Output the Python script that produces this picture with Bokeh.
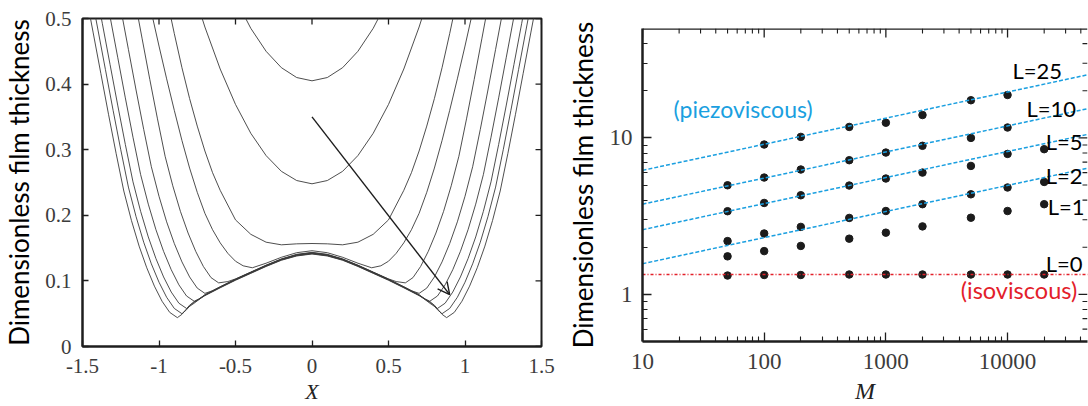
from bokeh.plotting import figure
from bokeh.layouts import row
from bokeh.models import (Range1d, FixedTicker, Label, Arrow, OpenHead, Span,
                          CustomJSTickFormatter)
from bokeh.embed import file_html
from bokeh.resources import INLINE

# ---------------------------------------------------------------------------
# Left panel: film thickness profiles H(X), half profiles for X >= 0
# (the profiles are symmetric about X = 0)
# ---------------------------------------------------------------------------
profile_1_x = [0.0, 0.1, 0.2, 0.3, 0.4, 0.5]
profile_1_h = [0.405, 0.410, 0.425, 0.450, 0.485, 0.530]

profile_2_x = [0.0, 0.1, 0.2, 0.3, 0.4, 0.5, 0.6, 0.7, 0.8]
profile_2_h = [0.248, 0.253, 0.267, 0.291, 0.325, 0.369, 0.423, 0.487, 0.560]

profile_3_x = [0.0, 0.1, 0.2, 0.3, 0.4, 0.5, 0.6, 0.65, 0.7, 0.75, 0.8, 0.85, 0.9, 0.95]
profile_3_h = [0.157, 0.1565, 0.155, 0.159, 0.171, 0.193, 0.238, 0.265, 0.298, 0.336,
               0.378, 0.425, 0.477, 0.532]

profile_4_x = [0.0, 0.1, 0.2, 0.3, 0.39, 0.45, 0.5, 0.55, 0.6, 0.65, 0.7, 0.75, 0.8,
               0.85, 0.9, 0.95, 1.0, 1.05, 1.1]
profile_4_h = [0.146, 0.143, 0.136, 0.127, 0.120, 0.123, 0.130, 0.142, 0.158, 0.178,
               0.203, 0.235, 0.272, 0.314, 0.360, 0.408, 0.458, 0.510, 0.565]

profile_5_x = [0.0, 0.1, 0.2, 0.3, 0.4, 0.5, 0.55, 0.61, 0.66, 0.71, 0.76, 0.81, 0.86,
               0.91, 0.96, 1.01, 1.06, 1.11, 1.16]
profile_5_h = [0.1435, 0.1405, 0.1335, 0.124, 0.1135, 0.103, 0.099, 0.097, 0.105, 0.122,
               0.145, 0.173, 0.206, 0.245, 0.290, 0.347, 0.407, 0.469, 0.531]

profile_6_x = [0.0, 0.1, 0.2, 0.3, 0.4, 0.5, 0.6, 0.65, 0.7, 0.75, 0.8, 0.85, 0.9, 0.95,
               1.0, 1.05, 1.1, 1.15, 1.2, 1.25, 1.3]
profile_6_h = [0.143, 0.140, 0.133, 0.1235, 0.113, 0.1025, 0.091, 0.085, 0.081, 0.089,
               0.106, 0.129, 0.157, 0.190, 0.229, 0.274, 0.331, 0.391, 0.453, 0.515, 0.577]

profile_7_x = [0.0, 0.1, 0.2, 0.3, 0.4, 0.5, 0.6, 0.7, 0.74, 0.77, 0.82, 0.87, 0.92, 0.97,
               1.02, 1.07, 1.12, 1.17, 1.22, 1.27, 1.32, 1.37]
profile_7_h = [0.1425, 0.1395, 0.133, 0.1235, 0.113, 0.1025, 0.091, 0.079, 0.072, 0.069,
               0.077, 0.094, 0.117, 0.145, 0.178, 0.217, 0.262, 0.319, 0.379, 0.441,
               0.503, 0.565]

profile_8_x = [0.0, 0.1, 0.2, 0.3, 0.4, 0.5, 0.6, 0.7, 0.77, 0.82, 0.87, 0.92, 0.97, 1.02,
               1.07, 1.12, 1.17, 1.22, 1.27, 1.32, 1.37, 1.42]
profile_8_h = [0.142, 0.139, 0.1325, 0.123, 0.1125, 0.102, 0.0905, 0.0785, 0.066, 0.058,
               0.066, 0.083, 0.106, 0.134, 0.167, 0.206, 0.251, 0.308, 0.368, 0.430,
               0.492, 0.554]

profile_9_x = [0.0, 0.1, 0.2, 0.3, 0.4, 0.5, 0.6, 0.7, 0.78, 0.82, 0.85, 0.9, 0.95, 1.0,
               1.05, 1.1, 1.15, 1.2, 1.25, 1.3, 1.35, 1.4, 1.45]
profile_9_h = [0.1415, 0.1385, 0.132, 0.1225, 0.112, 0.1015, 0.090, 0.078, 0.067, 0.056,
               0.050, 0.058, 0.075, 0.098, 0.126, 0.159, 0.198, 0.243, 0.300, 0.360,
               0.422, 0.484, 0.546]

profile_10_x = [0.0, 0.1, 0.2, 0.3, 0.4, 0.5, 0.6, 0.7, 0.8, 0.85, 0.88, 0.93, 0.98, 1.03,
                1.08, 1.13, 1.18, 1.23, 1.28, 1.33, 1.38, 1.43, 1.48]
profile_10_h = [0.141, 0.138, 0.1315, 0.122, 0.1115, 0.101, 0.0895, 0.0775, 0.063, 0.049,
                0.044, 0.052, 0.069, 0.092, 0.120, 0.153, 0.192, 0.237, 0.294, 0.354,
                0.416, 0.478, 0.540]

profiles = [
    (profile_1_x, profile_1_h), (profile_2_x, profile_2_h), (profile_3_x, profile_3_h),
    (profile_4_x, profile_4_h), (profile_5_x, profile_5_h), (profile_6_x, profile_6_h),
    (profile_7_x, profile_7_h), (profile_8_x, profile_8_h), (profile_9_x, profile_9_h),
    (profile_10_x, profile_10_h),
]

# arrow showing the direction of increasing load
arrow_tail = (0.0, 0.35)
arrow_head = (0.9, 0.079)

x_ticks_left = [-1.5, -1.0, -0.5, 0.0, 0.5, 1.0, 1.5]
y_ticks_left = [0.0, 0.1, 0.2, 0.3, 0.4, 0.5]

# ---------------------------------------------------------------------------
# Right panel: central film thickness vs M for several L
# ---------------------------------------------------------------------------
m_L25 = [100, 200, 500, 1000, 2000, 5000, 10000]
h_L25 = [9.07, 10.15, 11.75, 12.5, 14.0, 17.4, 18.8]

m_L10 = [50, 100, 200, 500, 1000, 2000, 5000, 10000]
h_L10 = [4.98, 5.58, 6.28, 7.2, 8.06, 8.9, 10.0, 11.65]

m_all = [50, 100, 200, 500, 1000, 2000, 5000, 10000, 20000]
h_L5 = [3.40, 3.84, 4.30, 4.96, 5.5, 6.0, 6.62, 7.9, 8.47]
h_L2 = [2.19, 2.45, 2.70, 3.08, 3.41, 3.77, 4.36, 4.82, 5.23]
h_L1 = [1.75, 1.89, 2.04, 2.27, 2.48, 2.72, 3.09, 3.41, 3.77]
h_L0 = [1.32, 1.33, 1.33, 1.34, 1.34, 1.34, 1.34, 1.34, 1.34]

# piezoviscous asymptotes (straight lines in log-log) and the isoviscous level
fit_m = [10, 50000]
fit_L25 = [6.2, 25.7]
fit_L10 = [3.77, 15.6]
fit_L5 = [2.59, 10.7]
fit_L2 = [1.57, 6.5]
iso_h = [1.34, 1.34]

x_major_right = [10, 100, 1000, 10000]
y_major_right = [1, 10]

SANS = "Lato"
SERIF = "Liberation Serif"
FRAME = "#1e1e1e"
TICK_TXT = "#3c3c3c"
BLUE = "#1a9fe0"
RED = "#e3202a"

# frame geometry (pixels)
L_W, L_H = 560, 406
L_BORDER = dict(left=80, right=19, top=18, bottom=59)
R_W, R_H = 528, 406
R_BORDER = dict(left=82, right=1, top=28, bottom=65)
R_X_END = 45400


def mirrored(xs, hs):
    """Full symmetric profile from a half profile."""
    full_x = [-x for x in reversed(xs[1:])] + list(xs)
    full_h = list(reversed(hs[1:])) + list(hs)
    return full_x, full_h


def frame_axis(ax, tick_in, minor_in=0, size="20px", lw=2.0):
    ax.axis_line_color = FRAME
    ax.axis_line_width = lw
    ax.major_tick_in = tick_in
    ax.major_tick_out = 0
    ax.minor_tick_in = minor_in
    ax.minor_tick_out = 0
    ax.major_tick_line_color = FRAME
    ax.major_tick_line_width = 1.3
    ax.minor_tick_line_color = FRAME if minor_in else None
    ax.minor_tick_line_width = 1.1
    ax.major_label_text_font = SERIF
    ax.major_label_text_color = TICK_TXT
    ax.major_label_text_font_size = size


def make_figure(w, h, border, **kw):
    fig = figure(width=w, height=h, output_backend="svg", toolbar_location=None,
                 min_border_left=border["left"], min_border_right=border["right"],
                 min_border_top=border["top"], min_border_bottom=border["bottom"], **kw)
    # each panel keeps its own frame edges inside the row
    fig.frame_align = False
    fig.xgrid.grid_line_color = None
    fig.ygrid.grid_line_color = None
    fig.background_fill_color = "white"
    fig.border_fill_color = "white"
    return fig


def axis_title(ax, text, size, standoff, font=SERIF, style="italic", color="#222222"):
    ax.axis_label = text
    ax.axis_label_text_font = font
    ax.axis_label_text_font_style = style
    ax.axis_label_text_font_size = size
    ax.axis_label_text_color = color
    ax.axis_label_standoff = standoff


# ----------------------------- left figure ---------------------------------
p1 = make_figure(L_W, L_H, L_BORDER, x_range=Range1d(-1.5, 1.5), y_range=Range1d(0, 0.5))
p1.outline_line_color = FRAME
p1.outline_line_width = 2

fmt_left = CustomJSTickFormatter(code="return String(Math.round(tick * 10) / 10);")

frame_axis(p1.xaxis[0], 6, size="21px")
p1.xaxis.ticker = FixedTicker(ticks=x_ticks_left)
p1.xaxis.formatter = fmt_left
p1.xaxis.major_label_standoff = 12
axis_title(p1.xaxis[0], "X", "22px", 3)

frame_axis(p1.yaxis[0], 6, size="21px")
p1.yaxis.ticker = FixedTicker(ticks=y_ticks_left)
p1.yaxis.formatter = fmt_left
p1.yaxis.major_label_standoff = 11
axis_title(p1.yaxis[0], "Dimensionless film thickness", "26px", 7,
           font=SANS, style="normal", color="black")

# mirrored inward ticks on the top and right edges of the frame
l_fw = L_W - L_BORDER["left"] - L_BORDER["right"]
l_fh = L_H - L_BORDER["top"] - L_BORDER["bottom"]
dy6 = 6 * 0.5 / l_fh
dx6 = 6 * 3.0 / l_fw
p1.segment(x0=x_ticks_left, y0=[0.5] * len(x_ticks_left),
           x1=x_ticks_left, y1=[0.5 - dy6] * len(x_ticks_left),
           line_color=FRAME, line_width=1.3)
p1.segment(x0=[1.5] * len(y_ticks_left), y0=y_ticks_left,
           x1=[1.5 - dx6] * len(y_ticks_left), y1=y_ticks_left,
           line_color=FRAME, line_width=1.3)

for xs, hs in profiles:
    fx, fh = mirrored(xs, hs)
    p1.line(fx, fh, line_color="#3a3a3a", line_width=0.9)

p1.add_layout(Arrow(x_start=arrow_tail[0], y_start=arrow_tail[1],
                    x_end=arrow_head[0], y_end=arrow_head[1],
                    line_color="#1c1c1c", line_width=1.4,
                    end=OpenHead(size=12, line_color="#1c1c1c", line_width=1.4)))

# ----------------------------- right figure --------------------------------
p2 = make_figure(R_W, R_H, R_BORDER, x_axis_type="log", y_axis_type="log",
                 x_range=Range1d(10, R_X_END), y_range=Range1d(0.5, 50))
p2.outline_line_color = None

x_minor_right = [k * d for d in (10, 100, 1000, 10000) for k in range(2, 10)]
y_minor_right = [0.6, 0.7, 0.8, 0.9] + [float(k) for k in range(2, 10)] + [20.0, 30.0, 40.0]
fmt_right = CustomJSTickFormatter(code="return tick.toFixed(0);")

frame_axis(p2.xaxis[0], 9, 5, size="23px", lw=2.5)
p2.xaxis.ticker = FixedTicker(ticks=x_major_right, minor_ticks=x_minor_right)
p2.xaxis.formatter = fmt_right
p2.xaxis.major_label_standoff = 12
axis_title(p2.xaxis[0], "M", "24px", 6)

frame_axis(p2.yaxis[0], 9, 5, size="23px", lw=2.5)
p2.yaxis.ticker = FixedTicker(ticks=y_major_right, minor_ticks=y_minor_right)
p2.yaxis.formatter = fmt_right
p2.yaxis.major_label_standoff = 10
axis_title(p2.yaxis[0], "Dimensionless film thickness", "26px", 8,
           font=SANS, style="normal", color="black")

# top edge of the frame with inward ticks, and inward ticks on the right edge
p2.add_layout(Span(location=50, dimension="width", line_color=FRAME, line_width=2.5))
r_fw = R_W - R_BORDER["left"] - R_BORDER["right"]
r_fh = R_H - R_BORDER["top"] - R_BORDER["bottom"]
px_per_dec_x = r_fw / 3.657
px_per_dec_y = r_fh / 2.0


def down(px):
    return 50 / 10 ** (px / px_per_dec_y)


def left(px):
    return R_X_END / 10 ** (px / px_per_dec_x)


p2.segment(x0=x_major_right, y0=[50] * 4, x1=x_major_right, y1=[down(9)] * 4,
           line_color=FRAME, line_width=1.3)
p2.segment(x0=x_minor_right, y0=[50] * len(x_minor_right), x1=x_minor_right,
           y1=[down(5)] * len(x_minor_right), line_color=FRAME, line_width=1.1)
p2.segment(x0=[R_X_END] * 2, y0=y_major_right, x1=[left(9)] * 2, y1=y_major_right,
           line_color=FRAME, line_width=1.3)
p2.segment(x0=[R_X_END] * len(y_minor_right), y0=y_minor_right,
           x1=[left(5)] * len(y_minor_right), y1=y_minor_right,
           line_color=FRAME, line_width=1.1)

dot = dict(size=7.5, color="#1b1b1b")
p2.scatter(m_L25, h_L25, **dot)
p2.scatter(m_L10, h_L10, **dot)
p2.scatter(m_all, h_L5, **dot)
p2.scatter(m_all, h_L2, **dot)
p2.scatter(m_all, h_L1, **dot)
p2.scatter(m_all, h_L0, **dot)

for fit in (fit_L25, fit_L10, fit_L5, fit_L2):
    p2.line(fit_m, fit, line_color=BLUE, line_width=1.5, line_dash="4 2")
p2.line(fit_m, iso_h, line_color=RED, line_width=1.6, line_dash="3 2 1 2")

txt = dict(text_font=SANS, text_baseline="middle", text_align="left")
p2.add_layout(Label(x=18.0, y=15.2, text="(piezoviscous)", text_color=BLUE,
                    text_font_size="23px", **txt))
p2.add_layout(Label(x=4126, y=1.06, text="(isoviscous)", text_color=RED,
                    text_font_size="23.5px", **txt))
for lx, ly, lt in [(10970, 27.1, "L=25"), (14290, 15.4, "L=10"), (20600, 9.43, "L=5"),
                   (20600, 5.71, "L=2"), (21400, 3.62, "L=1"), (20600, 1.57, "L=0")]:
    p2.add_layout(Label(x=lx, y=ly, text=lt, text_color="black",
                        text_font_size="22px", **txt))

layout = row(p1, p2, spacing=0)
open("out.html", "w").write(file_html(layout, INLINE))
